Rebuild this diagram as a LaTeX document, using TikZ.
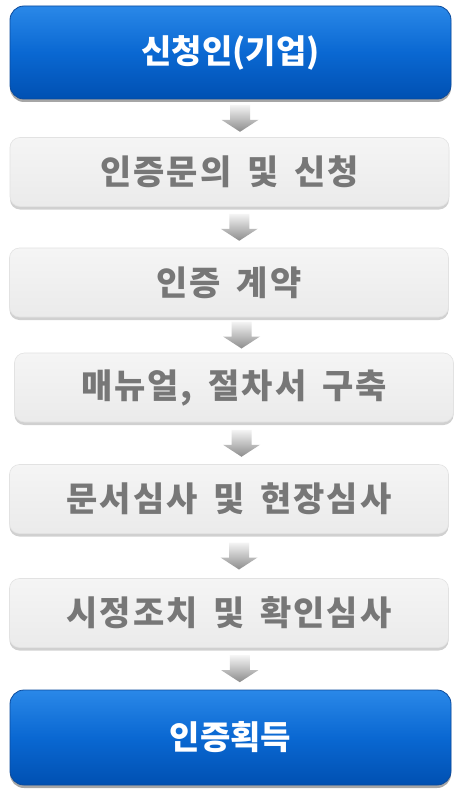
\documentclass[tikz,border=0pt]{standalone}
\usepackage{fontspec}
\newfontfamily\kr{Noto Sans CJK KR}
\newfontfamily\krsp{Noto Sans CJK KR}[LetterSpace=6,WordSpace=1.6]
\usetikzlibrary{shadows,calc}
\definecolor{bluetop}{HTML}{2A88E8}
\definecolor{bluemid}{HTML}{0A68D2}
\definecolor{bluebot}{HTML}{0050B2}
\definecolor{blueedge}{HTML}{0B4A9C}
\definecolor{graytxt}{HTML}{777777}
\definecolor{grayedge}{HTML}{E2E2E2}
\tikzset{
  bluebox/.style={rectangle, rounded corners=14pt, draw=blueedge, line width=0.8pt,
    top color=bluetop, bottom color=bluebot, middle color=bluemid,
    minimum width=441pt, minimum height=93pt, inner sep=0pt,
    text=white, font=\kr\bfseries\fontsize{33}{38}\selectfont,
    drop shadow={shadow xshift=0pt, shadow yshift=-3pt, opacity=0.35, fill=black}},
  graybox/.style={rectangle, rounded corners=10pt, draw=grayedge, line width=0.6pt,
    top color=white!96!black, bottom color=white!92!black,
    minimum width=439pt, minimum height=69pt, inner sep=0pt,
    text=graytxt, font=\krsp\bfseries\fontsize{34}{40}\selectfont,
    drop shadow={shadow xshift=0pt, shadow yshift=-3pt, opacity=0.3, fill=black!60}},
  arrowfill/.style={top color=white!96!black, bottom color=white!55!black, draw=none}
}
\newcommand\flowarrow[2]{%
  \path ($(#1.south)!0.5!(#2.north)$) coordinate (m-#1-#2);
  \begin{scope}[shift={(m-#1-#2)}, xshift=10pt]
    \shade[arrowfill] (-10,-13.5) -- (10,-13.5) -- (10,1.5) -- (18.5,1.5) -- (0,13.5) -- (-18.5,1.5) -- (-10,1.5) -- cycle;
  \end{scope}}
\begin{document}
\begin{tikzpicture}[x=1pt,y=-1pt]
\useasboundingbox[fill=white] (0,0) rectangle (462,797);
\node[bluebox] (b1) at (230.5,52.5) {신청인(기업)};
\node[graybox] (b2) at (229.5,172) {인증문의 및 신청};
\node[graybox] (b3) at (229,282.5) {인증 계약};
\node[graybox] (b4) at (234,387.5) {매뉴얼, 절차서 구축};
\node[graybox] (b5) at (229,499) {문서심사 및 현장심사};
\node[graybox] (b6) at (229,613) {시정조치 및 확인심사};
\node[bluebox, minimum height=95pt] (b7) at (230.5,737.5) {인증획득};
\flowarrow{b1}{b2}
\flowarrow{b2}{b3}
\flowarrow{b3}{b4}
\flowarrow{b4}{b5}
\flowarrow{b5}{b6}
\flowarrow{b6}{b7}
\end{tikzpicture}
\end{document}
